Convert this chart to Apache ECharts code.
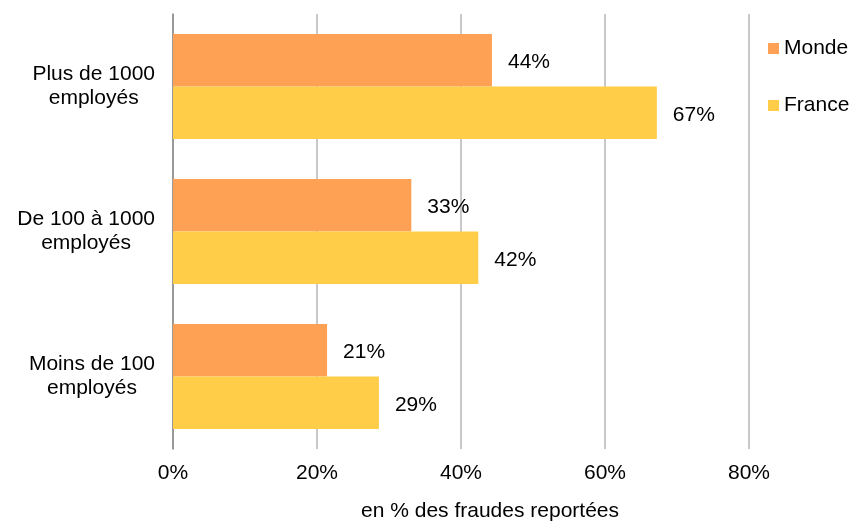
<!DOCTYPE html>
<html>
<head>
<meta charset="utf-8">
<script src="https://cdn.jsdelivr.net/npm/echarts@6/dist/echarts.min.js"></script>
<style>
  html, body { margin: 0; padding: 0; background: #fff; }
  #chart { width: 852px; height: 523px; }
</style>
</head>
<body>
<div id="chart"></div>
<script>
// categories, top to bottom
const categories = ['Plus de 1000\nemployés', 'De 100 à 1000\nemployés', 'Moins de 100\nemployés'];
const seriesNames = ['Monde', 'France'];
const monde = [44.3, 33.1, 21.4];
const france = [67.2, 42.4, 28.6];
const xTicks = [0, 20, 40, 60, 80];
const axisTitle = 'en % des fraudes reportées';

const font = 'Liberation Sans, Arial, sans-serif';
const fs = 21;

const chart = echarts.init(document.getElementById('chart'));

const labelStyle = {
    show: true,
    position: 'right',
    distance: 16,
    offset: [0, 2],
    color: '#000',
    fontFamily: font,
    fontSize: fs,
    formatter: function (p) { return Math.round(p.value) + '%'; }
};

const option = {
    backgroundColor: '#fff',
    animation: false,
    grid: { left: 173, right: 103, top: 14, bottom: 74 },
    legend: {
        orient: 'vertical',
        left: 763,
        top: 33,
        itemWidth: 11,
        itemHeight: 11,
        itemGap: 36,
        icon: 'rect',
        textStyle: { fontFamily: font, fontSize: fs, color: '#000' },
        data: seriesNames
    },
    xAxis: {
        type: 'value',
        min: xTicks[0],
        max: xTicks[xTicks.length - 1],
        interval: 20,
        axisLine: { show: false },
        axisTick: { show: false },
        axisLabel: {
            margin: 14,
            color: '#000',
            fontFamily: font,
            fontSize: fs,
            formatter: '{value}%'
        },
        splitLine: { lineStyle: { color: '#c8c8c8', width: 2 } }
    },
    yAxis: {
        type: 'category',
        inverse: true,
        data: categories,
        axisLine: { lineStyle: { color: '#8a8a8a', width: 1.5 } },
        axisTick: { length: 7, lineStyle: { color: '#8a8a8a', width: 1.5 } },
        axisLabel: {
            margin: 18,
            formatter: function (v) {
                return v.split('\n').map(function (s) { return '{c|' + s + '}'; }).join('\n');
            },
            rich: {
                c: {
                    align: 'center',
                    color: '#000',
                    fontFamily: font,
                    fontSize: fs,
                    lineHeight: 24
                }
            }
        }
    },
    graphic: [{
        type: 'text',
        x: 490,
        y: 511,
        style: {
            text: axisTitle,
            fill: '#000',
            font: fs + 'px ' + font,
            textAlign: 'center',
            textVerticalAlign: 'middle'
        }
    }],
    series: [
        {
            name: seriesNames[0],
            type: 'bar',
            data: monde,
            barGap: '0%',
            barCategoryGap: '27.6%',
            itemStyle: { color: '#FFA155' },
            label: labelStyle
        },
        {
            name: seriesNames[1],
            type: 'bar',
            data: france,
            barGap: '0%',
            barCategoryGap: '27.6%',
            itemStyle: { color: '#FFCD47' },
            label: labelStyle
        }
    ]
};

chart.setOption(option);
window.addEventListener('resize', function () { chart.resize(); });
</script>
</body>
</html>
